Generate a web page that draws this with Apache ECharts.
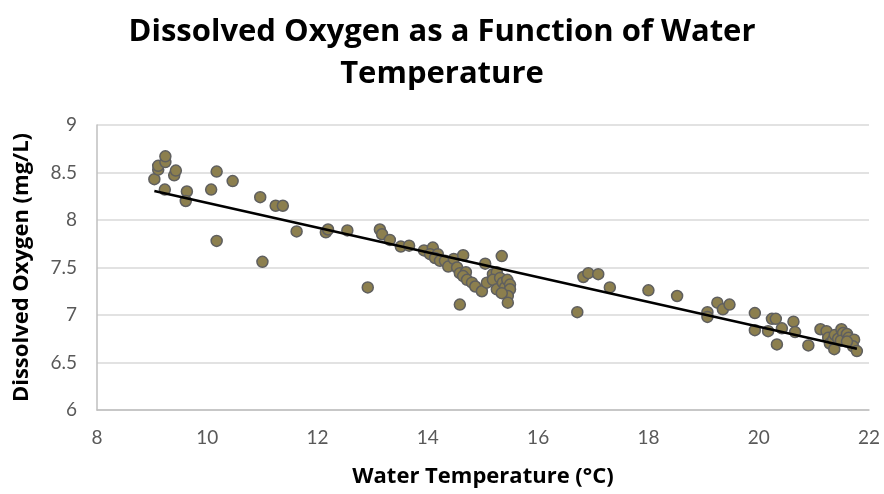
<!DOCTYPE html>
<html>
<head>
<meta charset="utf-8">
<script src="https://cdn.jsdelivr.net/npm/echarts@6/dist/echarts.min.js"></script>
<style>
  html, body { margin: 0; padding: 0; background: #fff; }
  #main { width: 884px; height: 494px; }
</style>
</head>
<body>
<div id="main"></div>
<script>
// water temperature (°C) and dissolved oxygen (mg/L)
const temperature = [
  9.04, 9.11, 9.11, 9.24, 9.24, 9.23, 9.40, 9.43, 9.63, 9.61,
  10.07, 10.17, 10.17, 10.46, 10.96, 11.00, 11.24, 11.37, 11.62, 12.15,
  12.19, 12.54, 12.91, 13.13, 13.17, 13.31, 13.51, 13.66, 13.93, 14.09,
  14.04, 14.18, 14.13, 14.22, 14.31, 14.37, 14.47, 14.64, 14.53, 14.58,
  14.69, 14.64, 14.71, 14.80, 14.86, 14.98, 14.58, 15.04, 15.34, 15.07,
  15.18, 15.25, 15.18, 15.31, 15.25, 15.36, 15.40, 15.44, 15.49, 15.49,
  15.45, 15.45, 15.34,
  16.71, 16.82, 16.91, 17.09, 17.30, 18.00, 18.52, 19.07, 19.07, 19.25,
  19.35, 19.47, 19.93, 19.93, 20.17, 20.24, 20.31, 20.33, 20.42, 20.63,
  20.66, 20.90, 21.12, 21.23, 21.26, 21.29, 21.35, 21.38, 21.37, 21.44,
  21.50, 21.53, 21.49, 21.60, 21.63, 21.73, 21.71, 21.78, 21.60
];
const oxygen = [
  8.43, 8.53, 8.57, 8.61, 8.67, 8.32, 8.47, 8.52, 8.30, 8.20,
  8.32, 8.51, 7.78, 8.41, 8.24, 7.56, 8.15, 8.15, 7.88, 7.87,
  7.90, 7.89, 7.29, 7.90, 7.85, 7.79, 7.72, 7.73, 7.68, 7.71,
  7.64, 7.64, 7.60, 7.57, 7.57, 7.51, 7.59, 7.63, 7.50, 7.44,
  7.45, 7.41, 7.37, 7.34, 7.30, 7.25, 7.11, 7.54, 7.62, 7.34,
  7.43, 7.45, 7.37, 7.39, 7.27, 7.34, 7.29, 7.37, 7.32, 7.27,
  7.20, 7.13, 7.23,
  7.03, 7.40, 7.44, 7.43, 7.29, 7.26, 7.20, 7.03, 6.98, 7.13,
  7.06, 7.11, 7.02, 6.84, 6.83, 6.96, 6.96, 6.69, 6.86, 6.93,
  6.82, 6.68, 6.85, 6.83, 6.76, 6.70, 6.74, 6.79, 6.64, 6.75,
  6.85, 6.81, 6.73, 6.80, 6.76, 6.74, 6.67, 6.62, 6.72
];

const points = temperature.map((t, i) => [t, oxygen[i]]);

// linear trendline (least squares), drawn across the data range
const n = points.length;
let sx = 0, sy = 0, sxx = 0, sxy = 0;
points.forEach(([x, y]) => { sx += x; sy += y; sxx += x * x; sxy += x * y; });
const slope = (n * sxy - sx * sy) / (n * sxx - sx * sx);
const intercept = (sy - slope * sx) / n;
const xMin = Math.min(...temperature), xMax = Math.max(...temperature);
const trend = [[xMin, intercept + slope * xMin], [xMax, intercept + slope * xMax]];

const font = 'Lato, "Open Sans", sans-serif';
const boldFont = '"Open Sans", Lato, sans-serif';

let myChart = echarts.init(document.getElementById('main'));

myChart.setOption({
  animation: false,
  title: {
    text: 'Dissolved Oxygen as a Function of Water\nTemperature',
    left: 'center',
    top: 6,
    textStyle: { fontFamily: boldFont, fontSize: 31, fontWeight: 'bold', color: '#000', lineHeight: 42 }
  },
  grid: { left: 97, right: 15, top: 125, bottom: 84, containLabel: false },
  xAxis: {
    type: 'value',
    min: 8, max: 22, interval: 2,
    name: 'Water Temperature (°C)',
    nameLocation: 'middle',
    nameGap: 56,
    nameTextStyle: { fontFamily: boldFont, fontSize: 22, fontWeight: 'bold', color: '#000' },
    axisLine: { show: true, lineStyle: { color: '#bfbfbf', width: 1.5 } },
    axisTick: { show: false },
    axisLabel: { fontFamily: font, fontSize: 19, color: '#595959', margin: 18 },
    splitLine: { show: false }
  },
  yAxis: {
    type: 'value',
    min: 6, max: 9, interval: 0.5,
    name: 'Dissolved Oxygen (mg/L)',
    nameLocation: 'middle',
    nameGap: 64,
    nameTextStyle: { fontFamily: boldFont, fontSize: 22, fontWeight: 'bold', color: '#000' },
    axisLine: { show: true, lineStyle: { color: '#bfbfbf', width: 1.5 } },
    axisTick: { show: false },
    axisLabel: { fontFamily: font, fontSize: 19, color: '#595959', margin: 20 },
    splitLine: { show: true, lineStyle: { color: '#d9d9d9', width: 1.5 } }
  },
  series: [
    {
      name: 'DO',
      type: 'scatter',
      data: points,
      symbolSize: 11,
      itemStyle: { color: '#8c7f4e', borderColor: '#5f5f5f', borderWidth: 1.5, opacity: 1 },
      z: 2
    },
    {
      name: 'Trend',
      type: 'line',
      data: trend,
      symbol: 'none',
      lineStyle: { color: '#000', width: 2.5 },
      z: 3
    }
  ]
});
</script>
</body>
</html>
